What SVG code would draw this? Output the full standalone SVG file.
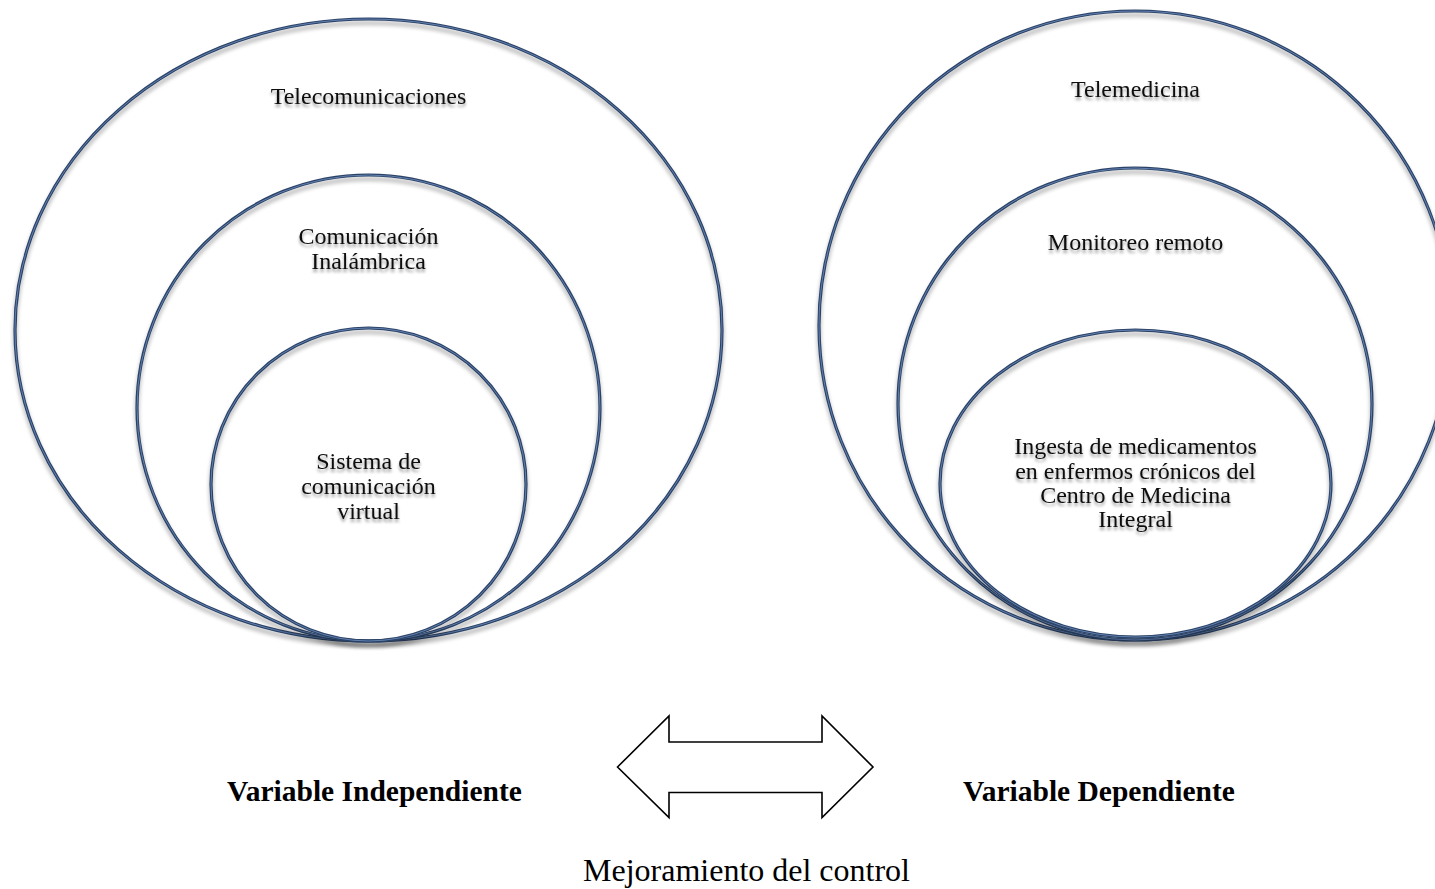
<svg xmlns="http://www.w3.org/2000/svg" width="1435" height="889" viewBox="0 0 1435 889">
  <style>
    .ring { fill: none; stroke: #2b4266; stroke-width: 3.2; }
    .ring-hi { fill: none; stroke: #6787b8; stroke-width: 0.9; }
    .lbl { font-family: "Liberation Serif", "Times New Roman", serif; font-size: 24px; fill: #111; text-anchor: middle; }
    .var { font-family: "Liberation Serif", "Times New Roman", serif; font-size: 29.5px; font-weight: bold; fill: #000; text-anchor: middle; }
    .cap { font-family: "Liberation Serif", "Times New Roman", serif; font-size: 32px; fill: #000; text-anchor: middle; }
  </style>
  <defs>
    <filter id="shadow" x="-10%" y="-10%" width="120%" height="125%">
      <feGaussianBlur in="SourceAlpha" stdDeviation="2.2"/>
      <feOffset dx="0" dy="3.5" result="b"/>
      <feComponentTransfer><feFuncA type="linear" slope="0.35"/></feComponentTransfer>
      <feMerge><feMergeNode/><feMergeNode in="SourceGraphic"/></feMerge>
    </filter>
    <filter id="tshadow" x="-10%" y="-30%" width="120%" height="180%">
      <feGaussianBlur in="SourceAlpha" stdDeviation="1.6"/>
      <feOffset dx="0" dy="2.5"/>
      <feComponentTransfer><feFuncA type="linear" slope="0.4"/></feComponentTransfer>
      <feMerge><feMergeNode/><feMergeNode in="SourceGraphic"/></feMerge>
    </filter>
  </defs>

  <rect width="1435" height="889" fill="#ffffff"/>

  <!-- independent variable: nested rings -->
  <g id="telecomunicaciones" filter="url(#shadow)">
    <ellipse class="ring" cx="368.5" cy="330" rx="353.5" ry="311"/>
    <ellipse class="ring-hi" cx="368.5" cy="330" rx="353.5" ry="311"/>
  </g>
  <g id="comunicacion-inalambrica" filter="url(#shadow)">
    <ellipse class="ring" cx="368.5" cy="408" rx="231.5" ry="233"/>
    <ellipse class="ring-hi" cx="368.5" cy="408" rx="231.5" ry="233"/>
  </g>
  <g id="sistema-comunicacion" filter="url(#shadow)">
    <ellipse class="ring" cx="368.5" cy="484.5" rx="157.5" ry="156.5"/>
    <ellipse class="ring-hi" cx="368.5" cy="484.5" rx="157.5" ry="156.5"/>
  </g>

  <!-- dependent variable: nested rings -->
  <g id="telemedicina" filter="url(#shadow)">
    <ellipse class="ring" cx="1135" cy="325.5" rx="316" ry="314.5"/>
    <ellipse class="ring-hi" cx="1135" cy="325.5" rx="316" ry="314.5"/>
  </g>
  <g id="monitoreo-remoto" filter="url(#shadow)">
    <ellipse class="ring" cx="1135" cy="404" rx="237" ry="236"/>
    <ellipse class="ring-hi" cx="1135" cy="404" rx="237" ry="236"/>
  </g>
  <g id="ingesta-medicamentos" filter="url(#shadow)">
    <ellipse class="ring" cx="1135.5" cy="483.5" rx="195.5" ry="153.5"/>
    <ellipse class="ring-hi" cx="1135.5" cy="483.5" rx="195.5" ry="153.5"/>
  </g>

  <!-- ring labels -->
  <g id="labels" filter="url(#tshadow)">
    <text class="lbl" x="368.5" y="104">Telecomunicaciones</text>
    <text class="lbl" x="368.5" y="244">Comunicación</text>
    <text class="lbl" x="368.5" y="269">Inalámbrica</text>
    <text class="lbl" x="368.5" y="469">Sistema de</text>
    <text class="lbl" x="368.5" y="494">comunicación</text>
    <text class="lbl" x="368.5" y="519">virtual</text>
    <text class="lbl" x="1135.5" y="97">Telemedicina</text>
    <text class="lbl" x="1135.5" y="250">Monitoreo remoto</text>
    <text class="lbl" x="1135.5" y="454">Ingesta de medicamentos</text>
    <text class="lbl" x="1135.5" y="479">en enfermos crónicos del</text>
    <text class="lbl" x="1135.5" y="503">Centro de Medicina</text>
    <text class="lbl" x="1135.5" y="527">Integral</text>
  </g>

  <!-- double-headed block arrow linking both variables -->
  <g id="connectors">
    <polygon points="617.5,767 669,716 669,742 822,742 822,716 873,767 822,817.5 822,792.5 669,792.5 669,817.5"
             fill="#ffffff" stroke="#000000" stroke-width="1.6" stroke-linejoin="miter"/>
  </g>

  <g id="variable-independiente">
    <text class="var" x="374.5" y="801">Variable Independiente</text>
  </g>
  <g id="variable-dependiente">
    <text class="var" x="1099" y="801">Variable Dependiente</text>
  </g>
  <g id="mejoramiento">
    <text class="cap" x="746.5" y="881">Mejoramiento del control</text>
  </g>
</svg>
